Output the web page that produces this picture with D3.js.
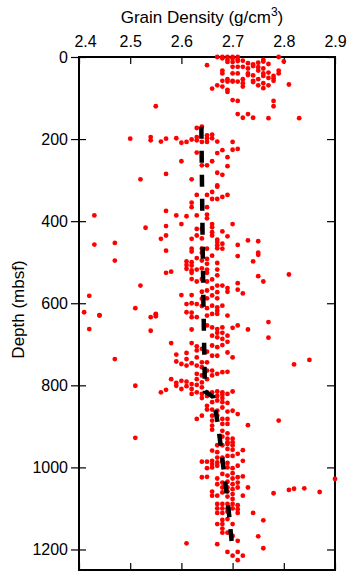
<!DOCTYPE html>
<html>
<head>
<meta charset="utf-8">
<script src="https://cdn.jsdelivr.net/npm/d3@7"></script>
<style>
    body { margin: 0; background: #fff; }
    text { font-family: "Liberation Sans", Arial, Helvetica, sans-serif; fill: #000; }
</style>
</head>
<body>
<div id="chart"></div>
<script>
// axis ticks
const xTicks = [2.4, 2.5, 2.6, 2.7, 2.8, 2.9];
const yTicks = [0, 200, 400, 600, 800, 1000, 1200];

// samples as [grain density, depth]
const upperSamples = [
    [2.67,0],[2.68,0],[2.69,0],[2.70,0],[2.71,0],[2.79,0],
    [2.68,3],[2.69,6],[2.70,3],[2.71,6],[2.72,9],
    [2.69,12],[2.70,12],[2.71,10],[2.76,7],[2.76,11],[2.80,11],
    [2.73,15],[2.74,18],[2.75,14],[2.77,17],
    [2.65,20],[2.70,24],[2.71,24],[2.72,24],[2.74,22],[2.75,25],[2.76,28],[2.73,28],[2.79,33],
    [2.68,33],[2.68,40],[2.70,40],[2.71,40],[2.73,40],[2.73,44],[2.75,33],[2.76,40],[2.77,38],[2.79,40],
    [2.74,45],[2.76,46],[2.78,46],
    [2.68,58],[2.69,54],[2.70,58],[2.72,54],[2.74,58],[2.74,61],[2.75,54],[2.76,64],[2.77,51],[2.78,52],[2.78,58],
    [2.67,69],[2.68,72],[2.69,60],[2.70,60],[2.71,60],[2.72,64],[2.72,72],[2.75,69],[2.76,76],[2.77,69],[2.81,67],[2.66,77],
    [2.69,80],[2.69,85],
    [2.70,105],[2.71,107],[2.78,107],[2.78,120],[2.55,120],
    [2.71,139],[2.73,139],[2.72,148],[2.74,148],[2.77,149],[2.83,149],
    [2.63,173],[2.64,170],
    [2.63,195],[2.65,191],[2.66,189],[2.65,198],[2.66,198],[2.50,199],[2.54,195],[2.54,203],[2.56,206],[2.57,199],
    [2.59,198],[2.60,209],[2.61,207],[2.62,201],[2.63,203],[2.64,207],[2.65,207],[2.67,206],[2.70,207],
    [2.63,233],[2.68,227],[2.67,234],[2.70,226],[2.71,224],[2.69,244],[2.60,254],[2.66,254],[2.64,264],[2.65,264],[2.69,266],
    [2.57,285],[2.67,282],[2.68,287],[2.52,298],[2.62,298],[2.67,313]
];

const middleSamples = [
    [2.67,316],[2.66,329],[2.65,336],[2.63,336],[2.69,336],[2.68,341],[2.67,346],[2.66,346],
    [2.62,355],[2.62,366],[2.65,366],[2.43,386],[2.57,375],[2.59,386],[2.61,388],[2.63,386],[2.65,384],[2.65,393],
    [2.66,407],[2.66,415],[2.70,407],[2.60,407],[2.53,416],[2.57,412],[2.63,419],[2.64,419],[2.68,425],[2.69,437],
    [2.66,427],[2.66,435],[2.57,435],[2.56,443],[2.63,435],[2.62,443],[2.64,442],[2.67,445],[2.67,451],[2.68,455],
    [2.71,458],[2.73,447],[2.75,449],[2.43,457],[2.47,453],
    [2.57,472],[2.62,467],[2.62,474],[2.64,467],[2.65,467],[2.64,477],[2.66,484],[2.67,466],[2.68,467],[2.67,459],
    [2.71,485],[2.75,477],[2.75,482],
    [2.47,496],[2.61,498],[2.61,507],[2.62,500],[2.62,508],[2.63,490],[2.64,496],[2.65,492],[2.65,504],[2.67,502],[2.74,498],
    [2.61,516],[2.62,520],[2.62,526],[2.63,518],[2.64,515],[2.65,518],[2.65,526],[2.67,518],[2.67,532],
    [2.57,526],[2.58,523],[2.81,530],[2.75,534],[2.76,547],
    [2.62,541],[2.63,547],[2.64,541],[2.65,547],[2.66,542],[2.52,557],[2.67,557],[2.68,557],[2.69,563],[2.69,572],
    [2.71,551],[2.71,567],[2.72,576],
    [2.42,582],[2.60,580],[2.62,580],[2.64,572],[2.65,569],[2.66,563],[2.66,581],[2.67,573],[2.67,588],[2.64,589],[2.65,588],
    [2.61,602],[2.62,600],[2.63,602],[2.64,607],[2.65,612],[2.66,606],[2.67,610],[2.67,618],[2.68,606],
    [2.51,612],[2.41,622],[2.44,629],[2.55,627],[2.61,622],[2.62,623]
];

const lowerSamples = [
    [2.44,630],[2.54,634],[2.55,626],[2.55,632],[2.62,634],[2.63,634],[2.65,630],[2.66,626],[2.67,626],[2.69,630],
    [2.42,663],[2.54,667],[2.62,664],[2.65,654],[2.66,659],[2.67,663],[2.68,659],[2.70,660],[2.71,654],[2.73,664],
    [2.77,646],[2.77,684],
    [2.66,679],[2.67,672],[2.67,683],[2.68,672],[2.69,679],[2.68,687],[2.58,697],[2.62,697],[2.63,705],[2.63,715],
    [2.64,711],[2.65,718],[2.66,703],[2.67,707],[2.68,702],[2.69,694],[2.69,720],[2.66,728],[2.67,728],[2.59,725],
    [2.61,721],[2.47,736],[2.70,732],[2.82,749],[2.85,738],
    [2.59,742],[2.60,748],[2.61,736],[2.61,752],[2.62,746],[2.63,752],[2.63,732],[2.64,744],[2.64,756],[2.65,744],
    [2.65,764],[2.66,764],[2.66,776],[2.67,772],[2.68,768],[2.69,767],[2.63,772],[2.64,776],
    [2.58,785],[2.59,794],[2.59,801],[2.60,789],[2.60,809],[2.61,791],[2.61,802],[2.62,797],[2.62,809],[2.63,785],
    [2.63,799],[2.64,793],[2.64,805],[2.65,785],[2.51,801],[2.57,811],[2.56,817],
    [2.62,821],[2.63,817],[2.64,821],[2.65,817],[2.66,817],[2.67,815],[2.68,817],[2.70,815],
    [2.64,831],[2.65,826],[2.67,826],[2.68,823],[2.69,821],[2.68,831],[2.69,843],[2.65,850],[2.66,841],[2.67,837],[2.68,841],
    [2.65,859],[2.66,859],[2.67,862],[2.68,854],[2.69,864],[2.70,862],[2.71,870],[2.64,874],[2.63,882],[2.66,874],[2.67,874],
    [2.66,886],[2.66,898],[2.66,908],[2.68,882],[2.68,894],[2.69,882],[2.69,894],[2.73,897],[2.79,886],
    [2.51,928],[2.68,911],[2.69,917],[2.69,930],[2.70,930],[2.70,939],[2.69,939],[2.68,925]
];

const bottomSamples = [
    [2.67,946],[2.68,946],[2.69,943],[2.70,946],[2.66,959],[2.67,963],[2.69,955],[2.70,957],[2.72,958],
    [2.67,976],[2.68,976],[2.69,972],[2.70,972],[2.71,967],
    [2.64,986],[2.65,986],[2.66,984],[2.66,992],[2.67,988],[2.68,986],[2.69,989],[2.71,996],[2.72,984],
    [2.65,1002],[2.66,1000],[2.67,996],[2.69,1000],[2.70,1002],
    [2.64,1024],[2.65,1023],[2.67,1027],[2.67,1041],[2.68,1016],[2.69,1020],[2.70,1014],[2.70,1027],[2.71,1024],[2.72,1022],
    [2.68,1037],[2.69,1035],[2.70,1041],[2.71,1037],[2.71,1049],[2.69,1049],[2.70,1053],[2.68,1049],[2.73,1049],
    [2.90,1028],[2.78,1063],[2.81,1055],[2.82,1052],[2.84,1051],[2.87,1060],
    [2.66,1059],[2.66,1069],[2.67,1069],[2.68,1061],[2.69,1059],[2.69,1071],[2.70,1065],[2.70,1077],[2.72,1069],
    [2.67,1089],[2.68,1089],[2.69,1089],[2.70,1089],[2.71,1092],[2.71,1102],[2.67,1100],[2.68,1100],[2.69,1100],[2.70,1100],
    [2.67,1111],[2.68,1111],[2.69,1108],[2.71,1111],[2.74,1111],[2.76,1129],[2.68,1128],[2.69,1126],
    [2.67,1138],[2.68,1138],[2.70,1138],[2.68,1149],[2.68,1159],[2.69,1159],
    [2.70,1167],[2.71,1179],[2.75,1168],[2.61,1185],[2.67,1187],[2.76,1197],[2.69,1206],[2.71,1206],
    [2.70,1215],[2.72,1215],[2.71,1226]
];

// dashed trend line
const trendDepth = [170, 400, 600, 815, 828, 900, 1000, 1100, 1205];
const trendDensity = [2.639, 2.641, 2.643, 2.646, 2.662, 2.672, 2.682, 2.692, 2.700];

const samples = upperSamples.concat(middleSamples, lowerSamples, bottomSamples);

var margin = {top: 57, right: 27, bottom: 14, left: 79},
    width = 362 - margin.left - margin.right,
    height = 584 - margin.top - margin.bottom;

let svg = d3.select("#chart")
    .append("svg")
    .attr("width", 362)
    .attr("height", 584);

let g = svg.append("g").attr("transform", "translate(" + margin.left + "," + margin.top + ")");

var x = d3.scaleLinear().domain([2.4, 2.9]).range([0, width]);
var y = d3.scaleLinear().domain([0, 1250]).range([0, height]);

// frame
g.append("rect")
    .attr("width", width)
    .attr("height", height)
    .attr("fill", "none")
    .attr("stroke", "#000")
    .attr("stroke-width", 2);

// top axis with labels, ticks pointing in
let topAxis = g.append("g")
    .call(d3.axisTop(x).tickValues(xTicks).tickSize(-7).tickSizeOuter(0).tickPadding(10).tickFormat(d3.format(".1f")));
topAxis.selectAll("text").filter(d => d === 2.4).attr("dx", 6);

// bottom axis, ticks only
g.append("g")
    .attr("transform", "translate(0," + height + ")")
    .call(d3.axisBottom(x).tickValues(xTicks).tickSize(-7).tickSizeOuter(0).tickFormat(""));

// left axis: labels + ticks across the frame
g.append("g")
    .call(d3.axisLeft(y).tickValues(yTicks).tickSize(8).tickSizeOuter(0).tickPadding(3).tickFormat(d3.format("d")));
g.append("g")
    .call(d3.axisRight(y).tickValues(yTicks).tickSize(7).tickSizeOuter(0).tickFormat(""));

// right axis, ticks pointing in
g.append("g")
    .attr("transform", "translate(" + width + ",0)")
    .call(d3.axisLeft(y).tickValues(yTicks).tickSize(8).tickSizeOuter(0).tickFormat(""));

g.selectAll(".domain").remove();
g.selectAll(".tick line").attr("stroke", "#000").attr("stroke-width", 1.2);
g.selectAll(".tick text").style("font-size", "16px").style("font-family", "'Liberation Sans', Arial, sans-serif").attr("fill", "#000");

// points
g.selectAll(".pt")
    .data(samples)
    .enter().append("circle")
    .attr("class", "pt")
    .attr("cx", d => x(d[0]))
    .attr("cy", d => y(d[1]))
    .attr("r", 2.4)
    .attr("fill", "#ff0000");

// trend
var trendLine = d3.line()
    .x(i => x(trendDensity[i]))
    .y(i => y(trendDepth[i]));

g.append("path")
    .datum(d3.range(trendDepth.length))
    .attr("d", trendLine)
    .attr("fill", "none")
    .attr("stroke", "#000")
    .attr("stroke-width", 4.5)
    .attr("stroke-dasharray", "12,12");

// titles
let title = svg.append("text")
    .attr("x", 202)
    .attr("y", 23)
    .attr("text-anchor", "middle")
    .style("font-size", "17px");
title.append("tspan").text("Grain Density (g/cm");
title.append("tspan").attr("dy", -7).style("font-size", "12px").text("3");
title.append("tspan").attr("dy", 7).text(")");

svg.append("text")
    .attr("transform", "translate(24," + (margin.top + height / 2 - 4) + ") rotate(-90)")
    .attr("text-anchor", "middle")
    .style("font-size", "17px")
    .text("Depth (mbsf)");
</script>
</body>
</html>
